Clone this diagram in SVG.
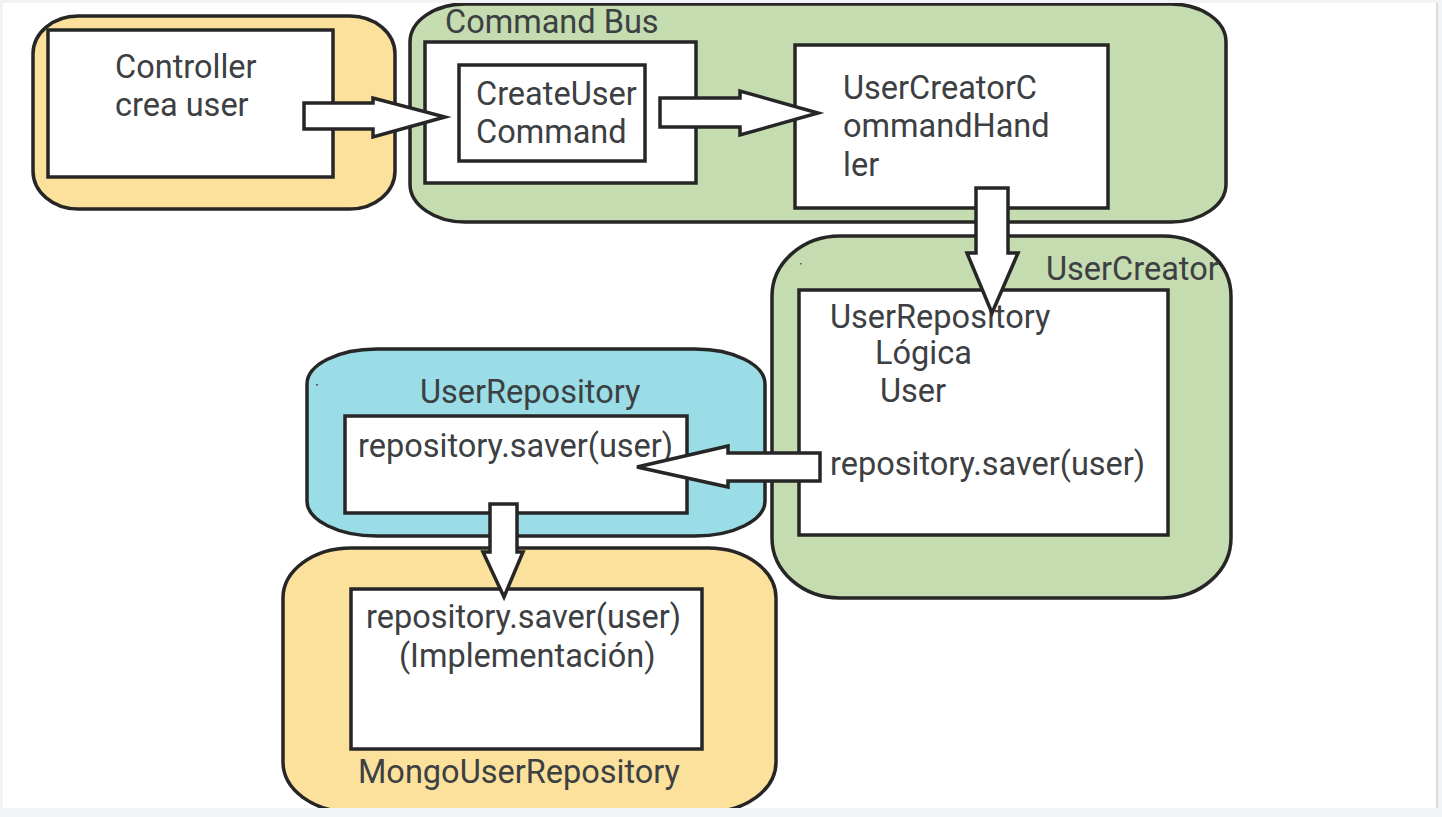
<svg xmlns="http://www.w3.org/2000/svg" width="1442" height="817" viewBox="0 0 1442 817">
<defs>
<style>
.frame{fill:#f1f3f4}
.paper{fill:#ffffff}
.grp{stroke:#262626;stroke-width:3.5}
.yellow{fill:#fbe19b}
.green{fill:#c5dbb0}
.blue{fill:#9adde6}
.box{fill:#ffffff;stroke:#262626;stroke-width:3.5}
.arrow{fill:#ffffff;stroke:#262626;stroke-width:3.5;stroke-linejoin:miter}
text{font-family:Roboto,"Liberation Sans",sans-serif;font-size:32.5px;fill:#3c4043}
</style>
<clipPath id="page"><rect x="3" y="3" width="1433" height="805"/></clipPath>
</defs>
<rect class="frame" x="0" y="0" width="1442" height="817"/>
<rect class="paper" x="3" y="3" width="1433" height="805"/>
<rect x="1436" y="3" width="2" height="805" fill="#dadce0"/>
<g clip-path="url(#page)">
<g id="command-bus">
<rect class="grp green" x="410" y="4" width="816" height="218" rx="55" ry="38"/>
<text x="445" y="33">Command Bus</text>
<rect class="box" x="425" y="42" width="271" height="141"/>
<rect class="box" x="459" y="65" width="186" height="96"/>
<text x="476" y="105">CreateUser</text>
<text x="476" y="143">Command</text>
</g>
<g id="handler">
<rect class="box" x="795" y="45" width="313" height="163"/>
<text x="843" y="99">UserCreatorC</text>
<text x="843" y="137">ommandHand</text>
<text x="843" y="176">ler</text>
</g>
<g id="controller">
<rect class="grp yellow" x="33" y="16" width="362" height="193" rx="45" ry="38"/>
<rect class="box" x="48" y="30" width="285" height="147"/>
<text x="115" y="78">Controller</text>
<text x="115" y="116">crea user</text>
</g>
<g id="user-creator">
<rect class="grp green" x="772" y="236" width="459" height="362" rx="68" ry="60"/>
<rect x="800" y="263" width="1.5" height="1.5" fill="#555"/>
<rect class="box" x="799" y="290" width="369" height="245"/>
<text x="1046" y="280">UserCreator</text>
<text x="830" y="328">UserRepository</text>
<text x="875" y="364">Lógica</text>
<text x="880" y="402">User</text>
<text x="830" y="475">repository.saver(user)</text>
</g>
<g id="user-repository">
<rect class="grp blue" x="307" y="349" width="458" height="187" rx="70" ry="35"/>
<rect x="316" y="384" width="2" height="1.5" fill="#555"/>
<text x="420" y="403">UserRepository</text>
<rect class="box" x="345" y="416" width="342" height="97"/>
<text x="358" y="457">repository.saver(user)</text>
</g>
<g id="mongo-user-repository">
<rect class="grp yellow" x="283" y="548" width="493" height="264" rx="68" ry="50"/>
<rect class="box" x="351" y="589" width="351" height="160"/>
<text x="366" y="628">repository.saver(user)</text>
<text x="399" y="667">(Implementación)</text>
<text x="358" y="783">MongoUserRepository</text>
</g>
<g id="connectors">
<polygon class="arrow" points="304,103 373,103 373,98 445,117 373,137 373,129 304,129"/>
<polygon class="arrow" points="660,98 740,98 740,91 818,113 740,135 740,127 660,127"/>
<polygon class="arrow" points="976,188 1008,188 1008,253 1018,253 992,313 967,253 976,253"/>
<polygon class="arrow" points="820,453 728,453 728,446 637,467 728,487 728,481 820,481"/>
<polygon class="arrow" points="490,504 517,504 517,552 523,552 504,597 483,552 490,552"/>
</g>
</g>
</svg>
